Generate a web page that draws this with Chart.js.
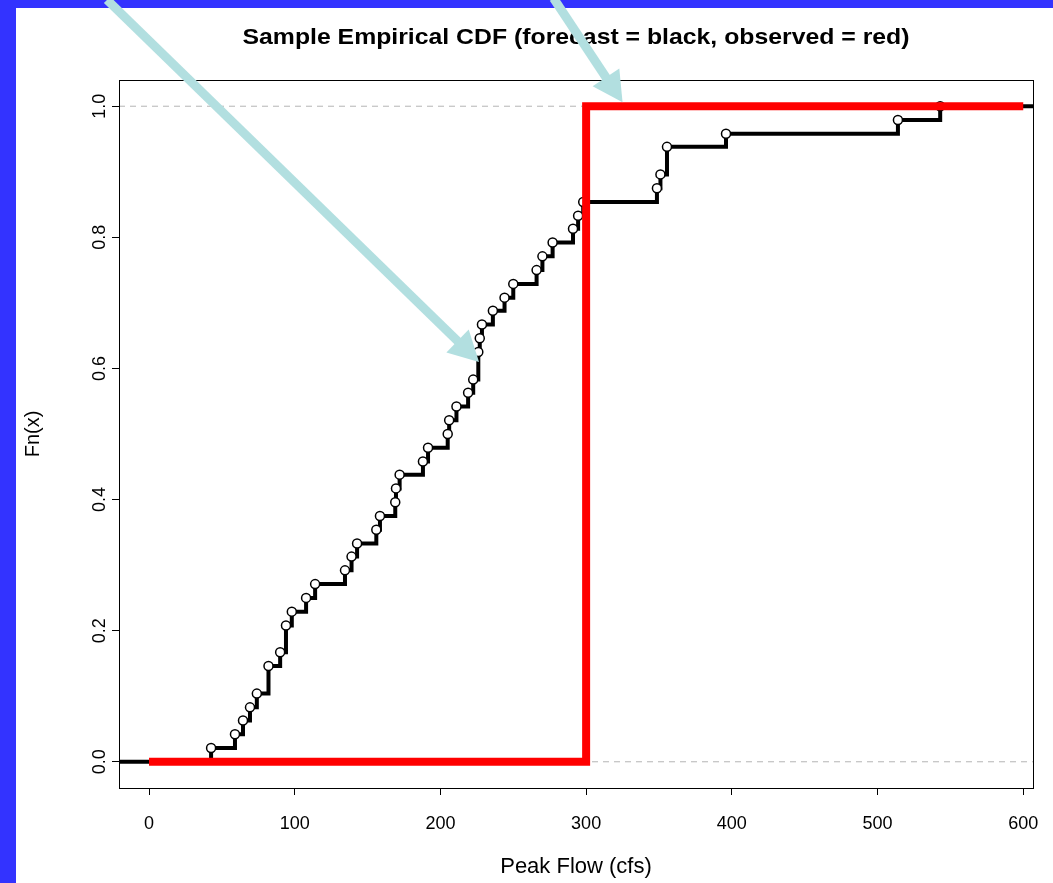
<!DOCTYPE html>
<html><head><meta charset="utf-8">
<script src="https://cdn.jsdelivr.net/npm/chart.js@4.4.1/dist/chart.umd.min.js"></script>
<style>
html,body{margin:0;padding:0;background:#3333ff;overflow:hidden;}
#wrap{position:relative;width:1053px;height:883px;}
</style></head><body>
<div id="wrap"><canvas id="c" width="1053" height="883"></canvas></div>
<script>
// ---- data ----
const chartTitle = 'Sample Empirical CDF (forecast = black, observed = red)';
const xAxisTitle = 'Peak Flow (cfs)';
const yAxisTitle = 'Fn(x)';
const xTicks = [0, 100, 200, 300, 400, 500, 600];
const yTicks = [0, 0.2, 0.4, 0.6, 0.8, 1.0];
const xMin = -20.6, xMax = 606.7, yMin = -0.04, yMax = 1.04;
// forecast ECDF: jump locations and Fn level after each jump
const forecastX = [42.6, 59, 64.5, 69.3, 74, 82, 90, 94, 98, 107.8, 114, 134.5, 139, 142.8, 156, 158.5,
  169, 169.5, 172, 188, 191.5, 205, 206, 211, 219, 222.5, 226, 227, 228.5, 236, 244, 250, 266, 270,
  277, 291, 294.5, 298, 348.6, 351, 355.5, 396, 514, 543];
const forecastFn = [0.021, 0.042, 0.063, 0.083, 0.104, 0.146, 0.167, 0.208, 0.229, 0.25, 0.271, 0.292,
  0.313, 0.333, 0.354, 0.375, 0.396, 0.417, 0.438, 0.458, 0.479, 0.5, 0.521, 0.542, 0.563, 0.583, 0.625,
  0.646, 0.667, 0.688, 0.708, 0.729, 0.75, 0.771, 0.792, 0.813, 0.833, 0.854, 0.875, 0.896, 0.938, 0.958,
  0.979, 1.0];
// observed ECDF (single observation at 300), drawn from 0 to 600
const observedX = [0, 300, 600];
const observedFn = [0, 1, 1];
// reference (dashed) levels
const refLevels = [0, 1];
// annotation arrows: tip in data units, tail offset in pixels
const arrows = [
  {tipX: 226.5, tipY: 0.61, tailDx: -372, tailDy: -362},
  {tipX: 325, tipY: 1.006, tailDx: -69, tailDy: -104}
];

const FONT = "'Liberation Sans', Arial, sans-serif";

const forecastData = [{x: xMin, y: 0}]
  .concat(forecastX.map((x, i) => ({x: x, y: forecastFn[i]})))
  .concat([{x: xMax, y: 1}]);
const observedData = observedX.map((x, i) => ({x: x, y: observedFn[i]}));

const refSets = refLevels.map(l => ({
  data: [{x: xMin, y: l}, {x: xMax, y: l}],
  borderColor: '#b4b4b4', borderWidth: 1, borderDash: [6, 5],
  pointRadius: 0, order: 3, clip: 0
}));

const framePlugin = {
  id: 'frame',
  beforeDraw(chart) {
    const c = chart.ctx;
    c.save();
    c.fillStyle = '#3333ff';
    c.fillRect(0, 0, chart.width, chart.height);
    c.fillStyle = '#ffffff';
    c.fillRect(16, 8, chart.width - 16, chart.height - 8);
    c.restore();
  },
  afterDraw(chart) {
    const c = chart.ctx, a = chart.chartArea;
    c.save();
    c.strokeStyle = '#000'; c.lineWidth = 1;
    c.strokeRect(Math.round(a.left) + 0.5, Math.round(a.top) + 0.5, Math.round(a.right - a.left), Math.round(a.bottom - a.top));
    // title (wide bold face, centred over the plot box)
    c.fillStyle = '#000';
    c.font = 'bold 22px ' + FONT;
    c.textAlign = 'center'; c.textBaseline = 'middle';
    const tw = c.measureText(chartTitle).width;
    c.save();
    c.translate((a.left + a.right) / 2, 38);
    c.scale(667 / tw, 1);
    c.fillText(chartTitle, 0, 0);
    c.restore();
    // y tick labels, rotated like R
    const ys = chart.scales.y;
    c.font = '18px ' + FONT;
    yTicks.forEach(v => {
      const p = ys.getPixelForValue(v);
      c.save();
      c.translate(a.left - 19, p);
      c.rotate(-Math.PI / 2);
      c.fillText(v.toFixed(1), 0, 0);
      c.restore();
    });
    // arrows
    const xs = chart.scales.x;
    c.fillStyle = '#b2dfe0'; c.strokeStyle = '#b2dfe0';
    arrows.forEach(ar => {
      const tx = xs.getPixelForValue(ar.tipX), ty = ys.getPixelForValue(ar.tipY);
      const len = Math.hypot(ar.tailDx, ar.tailDy);
      const ux = -ar.tailDx / len, uy = -ar.tailDy / len; // direction tail->tip
      const headL = 30, headW = 16;
      const bx = tx - ux * headL, by = ty - uy * headL;
      c.lineWidth = 9; c.lineCap = 'butt';
      c.beginPath(); c.moveTo(tx + ar.tailDx, ty + ar.tailDy); c.lineTo(bx + ux * 2, by + uy * 2); c.stroke();
      c.beginPath();
      c.moveTo(tx, ty);
      c.lineTo(bx - uy * headW, by + ux * headW);
      c.lineTo(bx + uy * headW, by - ux * headW);
      c.closePath(); c.fill();
    });
    c.restore();
  }
};

new Chart(document.getElementById('c'), {
  type: 'line',
  data: {
    datasets: [
      {
        data: observedData, stepped: 'before', borderColor: '#ff0000', borderWidth: 8,
        borderJoinStyle: 'miter', borderCapStyle: 'butt', pointRadius: 0, order: 1
      },
      {
        data: forecastData, stepped: 'before', borderColor: '#000000', borderWidth: 4,
        borderJoinStyle: 'miter', borderCapStyle: 'butt', order: 2,
        pointRadius: ctx => (ctx.dataIndex === 0 || ctx.dataIndex === forecastData.length - 1) ? 0 : 4.5,
        pointBackgroundColor: '#ffffff', pointBorderColor: '#000000', pointBorderWidth: 1.5
      },
      ...refSets
    ]
  },
  options: {
    responsive: false, animation: false, devicePixelRatio: 1,
    layout: {padding: {left: 16, right: 20, top: 80, bottom: 0}},
    plugins: {
      legend: {display: false}, tooltip: {enabled: false}, title: {display: false}
    },
    scales: {
      x: {
        type: 'linear', min: xMin, max: xMax,
        afterBuildTicks: s => { s.ticks = xTicks.map(v => ({value: v})); },
        afterFit: s => { s.height = 95; s.paddingLeft = 0; s.paddingRight = 0; },
        border: {display: false},
        grid: {drawOnChartArea: false, drawTicks: true, tickLength: 7, color: '#000', lineWidth: 1},
        ticks: {color: '#000', font: {family: FONT, size: 18}, padding: 18, maxRotation: 0, callback: v => String(v)},
        title: {display: true, text: xAxisTitle, color: '#000', font: {family: FONT, size: 22}, padding: {top: 0, bottom: 3}}
      },
      y: {
        type: 'linear', min: yMin, max: yMax,
        afterBuildTicks: s => { s.ticks = yTicks.map(v => ({value: v})); },
        afterFit: s => { s.width = 103; s.paddingTop = 0; s.paddingBottom = 0; },
        border: {display: false},
        grid: {drawOnChartArea: false, drawTicks: true, tickLength: 7, color: '#000', lineWidth: 1},
        ticks: {display: false},
        title: {display: true, text: yAxisTitle, color: '#000', font: {family: FONT, size: 20}, padding: {top: 5, bottom: 0}}
      }
    }
  },
  plugins: [framePlugin]
});
</script>
</body></html>
